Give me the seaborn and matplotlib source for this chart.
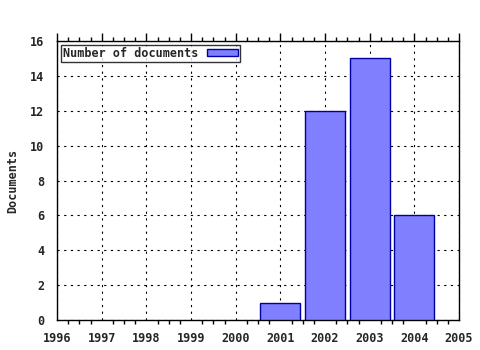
import matplotlib
matplotlib.use("Agg")
import matplotlib.pyplot as plt
import seaborn as sns
import pandas as pd
from matplotlib.ticker import MultipleLocator

years = [2001, 2002, 2003, 2004]
documents = [1, 12, 15, 6]
xticks = list(range(1996, 2006))
yticks = list(range(0, 17, 2))

sns.set_style("white")
plt.rcParams['font.family'] = ['DejaVu Sans Mono']
plt.rcParams['font.weight'] = 'bold'

fig = plt.figure(figsize=(4.8, 3.5), dpi=100)
ax = fig.add_axes([57/480, 1-320/350, (459-57)/480, (320-41)/350])

df = pd.DataFrame({"year": years, "docs": documents})
sns.barplot(data=df, x="year", y="docs", native_scale=True, width=0.9,
            color="#8080ff", saturation=1, edgecolor="#0000a0", linewidth=1,
            ax=ax, label="Number of documents", zorder=3)

ax.set_xlim(1996, 2005)
ax.set_ylim(0, 16)
ax.set_xticks(xticks)
ax.set_xticklabels([str(t) for t in xticks], fontsize=8.5, fontweight='bold')
ax.set_yticks(yticks)
ax.set_yticklabels([str(t) for t in yticks], fontsize=8.5, fontweight='bold')
ax.xaxis.set_minor_locator(MultipleLocator(0.25))
ax.tick_params(axis='both', which='major', direction='out', length=6, width=1,
               color='black', top=True, pad=3)
ax.tick_params(axis='x', which='minor', direction='out', length=3, width=1,
               color='black', top=True, bottom=True)
ax.set_xlabel("")
ax.set_ylabel("Documents", fontsize=8.5, fontweight='bold', labelpad=8)

ax.grid(True, which='major', color='black', linestyle=(0, (2, 4)), linewidth=0.8, zorder=0)
ax.set_axisbelow(True)
for s in ax.spines.values():
    s.set_color('black')
    s.set_linewidth(1)
    s.set_visible(True)

leg = ax.legend(loc='upper left', markerfirst=False, fontsize=8.5, frameon=True,
                fancybox=False, borderpad=0.15, handlelength=2.7, handleheight=0.6,
                handletextpad=0.7, borderaxespad=0.35)
leg.get_frame().set_edgecolor('black')
leg.get_frame().set_linewidth(1)
for t in leg.get_texts():
    t.set_fontweight('bold')

fig.savefig("out.png", dpi=100)
